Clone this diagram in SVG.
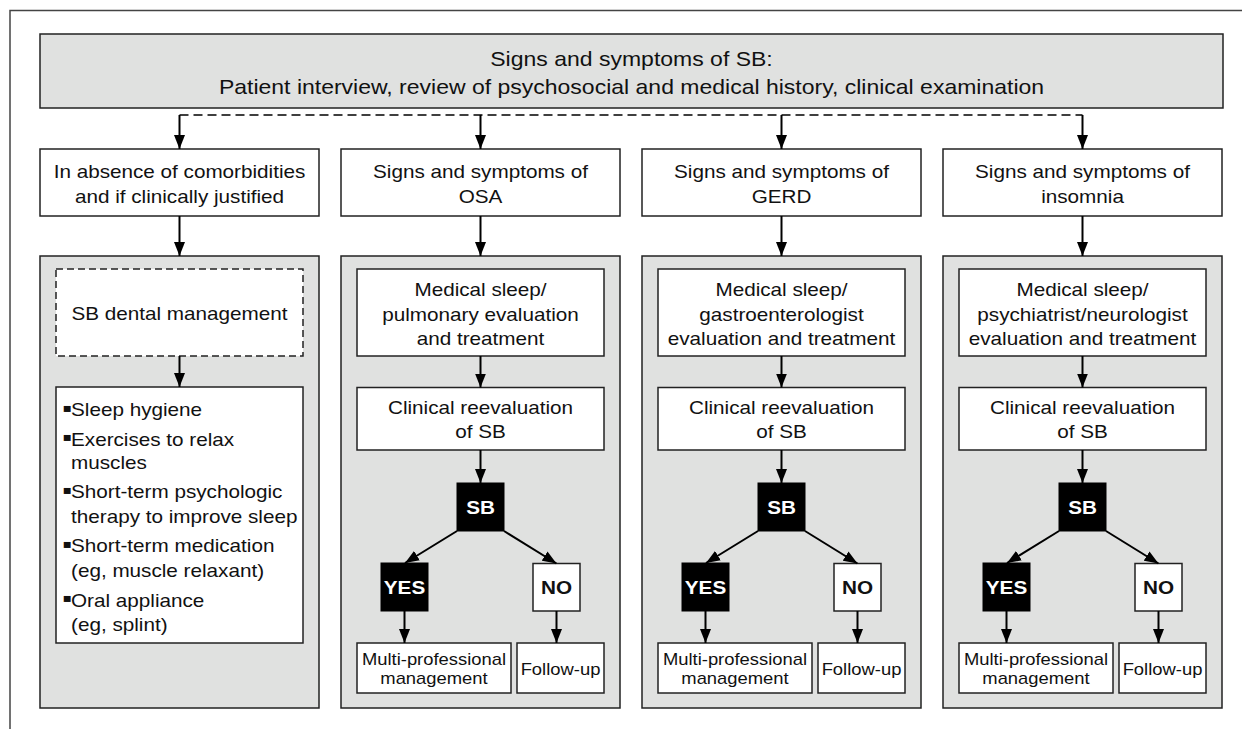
<svg xmlns="http://www.w3.org/2000/svg" width="1242" height="729" viewBox="0 0 1242 729">
<defs>
<style>
text{font-family:"Liberation Sans",Arial,Helvetica,sans-serif;fill:#111;}
.c{text-anchor:middle;font-size:18px;}
.top{text-anchor:middle;font-size:20px;}
.sm{text-anchor:middle;font-size:16px;}
.b{text-anchor:middle;font-size:18px;font-weight:bold;}
.w{fill:#fff;}
.l{font-size:18px;}
.bul{font-family:"DejaVu Sans",sans-serif;font-size:12px;}
.box{fill:#fff;stroke:#222;stroke-width:1.5;}
.gray{fill:#e0e1e0;stroke:#222;stroke-width:1.5;}
.blk{fill:#000;stroke:#000;stroke-width:1;}
.dbox{fill:#fff;stroke:#222;stroke-width:1.5;stroke-dasharray:7 4;}
.arr{stroke:#000;stroke-width:2;fill:none;marker-end:url(#ah);}
.dash{stroke:#000;stroke-width:1.5;fill:none;stroke-dasharray:9 5;}
.frame{stroke:#444;stroke-width:1.5;fill:none;}
</style>
<marker id="ah" markerUnits="userSpaceOnUse" markerWidth="14" markerHeight="11" refX="14" refY="5.5" orient="auto">
<path d="M0,0 L14,5.5 L0,11 z" fill="#000"/>
</marker>
</defs>
<rect width="1242" height="729" fill="#fff"/>
<path class="frame" d="M10,729 V10.5 H1242"/>

<g id="top">
<rect class="gray" x="40" y="34" width="1183" height="74"/>
<text class="top" transform="translate(631.5 0) scale(1.15 1)"><tspan x="0" y="66">Signs and symptoms of SB:</tspan><tspan x="0" y="94">Patient interview, review of psychosocial and medical history, clinical examination</tspan></text>
</g>

<!-- Column 1 -->
<g id="c1-header">
<rect class="box" x="40" y="149" width="279" height="67"/>
<text class="c" transform="translate(179.5 0) scale(1.15 1)"><tspan x="0" y="178.5">In absence of comorbidities</tspan><tspan x="0" y="203">and if clinically justified</tspan></text>
</g>
<g id="c1-panel"><rect class="gray" x="40" y="256" width="279" height="452"/></g>
<g id="c1-dental">
<rect class="dbox" x="56" y="269" width="247" height="87"/>
<text class="c" transform="translate(179.5 0) scale(1.15 1)"><tspan x="0" y="320">SB dental management</tspan></text>
</g>
<g id="c1-list">
<rect class="box" x="56" y="387" width="247" height="256"/>
<g transform="translate(62.5 0) scale(1.15 1)">
<text class="l"><tspan class="bul" x="0" y="412">▪</tspan><tspan x="7.4" y="416.5">Sleep hygiene</tspan></text>
<text class="l"><tspan class="bul" x="0" y="441.3">▪</tspan><tspan x="7.4" y="445.8">Exercises to relax</tspan><tspan x="7.4" y="469.3">muscles</tspan></text>
<text class="l"><tspan class="bul" x="0" y="493.8">▪</tspan><tspan x="7.4" y="498.3">Short-term psychologic</tspan><tspan x="7.4" y="522.7">therapy to improve sleep</tspan></text>
<text class="l"><tspan class="bul" x="0" y="548">▪</tspan><tspan x="7.4" y="552.5">Short-term medication</tspan><tspan x="7.4" y="577">(eg, muscle relaxant)</tspan></text>
<text class="l"><tspan class="bul" x="0" y="602.3">▪</tspan><tspan x="7.4" y="606.8">Oral appliance</tspan><tspan x="7.4" y="631">(eg, splint)</tspan></text>
</g>
</g>

<!-- Column 2 (L=341, c=480.5) -->
<g id="c2-header">
<rect class="box" x="341" y="149" width="279" height="67"/>
<text class="c" transform="translate(480.5 0) scale(1.15 1)"><tspan x="0" y="178.5">Signs and symptoms of</tspan><tspan x="0" y="203">OSA</tspan></text>
</g>
<g id="c2-panel"><rect class="gray" x="341" y="256" width="279" height="452"/></g>
<g id="c2-eval">
<rect class="box" x="357" y="269" width="247" height="87"/>
<text class="c" transform="translate(480.5 0) scale(1.15 1)"><tspan x="0" y="296.5">Medical sleep/</tspan><tspan x="0" y="321">pulmonary evaluation</tspan><tspan x="0" y="345.5">and treatment</tspan></text>
</g>
<g id="c2-reeval">
<rect class="box" x="357" y="387.5" width="247" height="62.5"/>
<text class="c" transform="translate(480.5 0) scale(1.15 1)"><tspan x="0" y="414.5">Clinical reevaluation</tspan><tspan x="0" y="438.5">of SB</tspan></text>
</g>
<g id="c2-sb">
<rect class="blk" x="457" y="483" width="47" height="48"/>
<text class="b w" transform="translate(480.5 0) scale(1.15 1)" x="0" y="514.5">SB</text>
</g>
<g id="c2-yes">
<rect class="blk" x="381" y="563" width="47" height="48"/>
<text class="b w" transform="translate(404.5 0) scale(1.15 1)" x="0" y="594.5">YES</text>
</g>
<g id="c2-no">
<rect class="box" x="533" y="563.5" width="47" height="47.5"/>
<text class="b" transform="translate(556.5 0) scale(1.15 1)" x="0" y="594.5">NO</text>
</g>
<g id="c2-multi">
<rect class="box" x="357" y="643" width="154" height="50"/>
<text class="sm" transform="translate(434 0) scale(1.15 1)"><tspan x="0" y="665">Multi-professional</tspan><tspan x="0" y="684">management</tspan></text>
</g>
<g id="c2-follow">
<rect class="box" x="517" y="643" width="87" height="50"/>
<text class="sm" transform="translate(560.5 0) scale(1.15 1)" x="0" y="675">Follow-up</text>
</g>

<!-- Column 3 (L=642, c=781.5) -->
<g id="c3-header">
<rect class="box" x="642" y="149" width="279" height="67"/>
<text class="c" transform="translate(781.5 0) scale(1.15 1)"><tspan x="0" y="178.5">Signs and symptoms of</tspan><tspan x="0" y="203">GERD</tspan></text>
</g>
<g id="c3-panel"><rect class="gray" x="642" y="256" width="279" height="452"/></g>
<g id="c3-eval">
<rect class="box" x="658" y="269" width="247" height="87"/>
<text class="c" transform="translate(781.5 0) scale(1.15 1)"><tspan x="0" y="296.5">Medical sleep/</tspan><tspan x="0" y="321">gastroenterologist</tspan><tspan x="0" y="345.5">evaluation and treatment</tspan></text>
</g>
<g id="c3-reeval">
<rect class="box" x="658" y="387.5" width="247" height="62.5"/>
<text class="c" transform="translate(781.5 0) scale(1.15 1)"><tspan x="0" y="414.5">Clinical reevaluation</tspan><tspan x="0" y="438.5">of SB</tspan></text>
</g>
<g id="c3-sb">
<rect class="blk" x="758" y="483" width="47" height="48"/>
<text class="b w" transform="translate(781.5 0) scale(1.15 1)" x="0" y="514.5">SB</text>
</g>
<g id="c3-yes">
<rect class="blk" x="682" y="563" width="47" height="48"/>
<text class="b w" transform="translate(705.5 0) scale(1.15 1)" x="0" y="594.5">YES</text>
</g>
<g id="c3-no">
<rect class="box" x="834" y="563.5" width="47" height="47.5"/>
<text class="b" transform="translate(857.5 0) scale(1.15 1)" x="0" y="594.5">NO</text>
</g>
<g id="c3-multi">
<rect class="box" x="658" y="643" width="154" height="50"/>
<text class="sm" transform="translate(735 0) scale(1.15 1)"><tspan x="0" y="665">Multi-professional</tspan><tspan x="0" y="684">management</tspan></text>
</g>
<g id="c3-follow">
<rect class="box" x="818" y="643" width="87" height="50"/>
<text class="sm" transform="translate(861.5 0) scale(1.15 1)" x="0" y="675">Follow-up</text>
</g>

<!-- Column 4 (L=943, c=1082.5) -->
<g id="c4-header">
<rect class="box" x="943" y="149" width="279" height="67"/>
<text class="c" transform="translate(1082.5 0) scale(1.15 1)"><tspan x="0" y="178.5">Signs and symptoms of</tspan><tspan x="0" y="203">insomnia</tspan></text>
</g>
<g id="c4-panel"><rect class="gray" x="943" y="256" width="279" height="452"/></g>
<g id="c4-eval">
<rect class="box" x="959" y="269" width="247" height="87"/>
<text class="c" transform="translate(1082.5 0) scale(1.15 1)"><tspan x="0" y="296.5">Medical sleep/</tspan><tspan x="0" y="321">psychiatrist/neurologist</tspan><tspan x="0" y="345.5">evaluation and treatment</tspan></text>
</g>
<g id="c4-reeval">
<rect class="box" x="959" y="387.5" width="247" height="62.5"/>
<text class="c" transform="translate(1082.5 0) scale(1.15 1)"><tspan x="0" y="414.5">Clinical reevaluation</tspan><tspan x="0" y="438.5">of SB</tspan></text>
</g>
<g id="c4-sb">
<rect class="blk" x="1059" y="483" width="47" height="48"/>
<text class="b w" transform="translate(1082.5 0) scale(1.15 1)" x="0" y="514.5">SB</text>
</g>
<g id="c4-yes">
<rect class="blk" x="983" y="563" width="47" height="48"/>
<text class="b w" transform="translate(1006.5 0) scale(1.15 1)" x="0" y="594.5">YES</text>
</g>
<g id="c4-no">
<rect class="box" x="1135" y="563.5" width="47" height="47.5"/>
<text class="b" transform="translate(1158.5 0) scale(1.15 1)" x="0" y="594.5">NO</text>
</g>
<g id="c4-multi">
<rect class="box" x="959" y="643" width="154" height="50"/>
<text class="sm" transform="translate(1036 0) scale(1.15 1)"><tspan x="0" y="665">Multi-professional</tspan><tspan x="0" y="684">management</tspan></text>
</g>
<g id="c4-follow">
<rect class="box" x="1119" y="643" width="87" height="50"/>
<text class="sm" transform="translate(1162.5 0) scale(1.15 1)" x="0" y="675">Follow-up</text>
</g>

<g id="connectors">
<path class="dash" d="M179.5,115 H1082.5"/>
<path class="arr" d="M179.5,115 V149"/>
<path class="arr" d="M480.5,115 V149"/>
<path class="arr" d="M781.5,115 V149"/>
<path class="arr" d="M1082.5,115 V149"/>
<!-- col1 -->
<path class="arr" d="M179.5,216 V256"/>
<path class="arr" d="M179.5,356 V387"/>
<!-- col2 -->
<path class="arr" d="M480.5,216 V256"/>
<path class="arr" d="M480.5,356 V387.5"/>
<path class="arr" d="M480.5,450 V483"/>
<path class="arr" d="M457,531 L405,563"/>
<path class="arr" d="M504,531 L556.5,563.5"/>
<path class="arr" d="M404.5,611 V643"/>
<path class="arr" d="M556.5,611 V643"/>
<!-- col3 -->
<path class="arr" d="M781.5,216 V256"/>
<path class="arr" d="M781.5,356 V387.5"/>
<path class="arr" d="M781.5,450 V483"/>
<path class="arr" d="M758,531 L706,563"/>
<path class="arr" d="M805,531 L857.5,563.5"/>
<path class="arr" d="M705.5,611 V643"/>
<path class="arr" d="M857.5,611 V643"/>
<!-- col4 -->
<path class="arr" d="M1082.5,216 V256"/>
<path class="arr" d="M1082.5,356 V387.5"/>
<path class="arr" d="M1082.5,450 V483"/>
<path class="arr" d="M1059,531 L1007,563"/>
<path class="arr" d="M1106,531 L1158.5,563.5"/>
<path class="arr" d="M1006.5,611 V643"/>
<path class="arr" d="M1158.5,611 V643"/>
</g>
</svg>
